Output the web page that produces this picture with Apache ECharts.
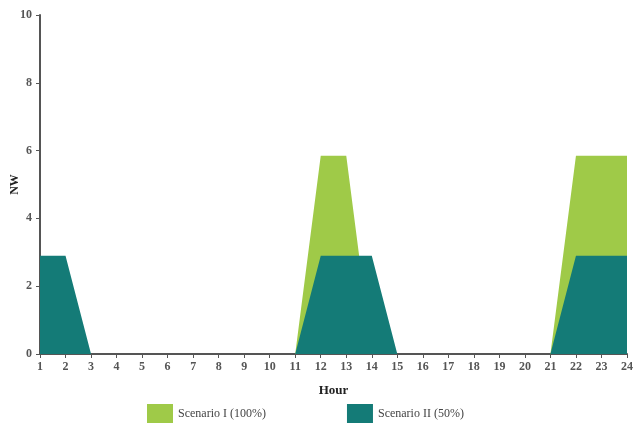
<!DOCTYPE html>
<html>
<head>
<meta charset="utf-8">
<script src="https://cdn.jsdelivr.net/npm/echarts@6/dist/echarts.min.js"></script>
<style>html,body{margin:0;padding:0;background:#fff}#c{width:638px;height:430px}</style>
</head>
<body>
<div id="c"></div>
<script>
const hours = ['1','2','3','4','5','6','7','8','9','10','11','12','13','14','15','16','17','18','19','20','21','22','23','24'];
const scenario1 = [0,0,0,0,0,0,0,0,0,0,0,5.85,5.85,0,0,0,0,0,0,0,0,5.85,5.85,5.85];
const scenario2 = [2.9,2.9,0,0,0,0,0,0,0,0,0,2.9,2.9,2.9,0,0,0,0,0,0,0,2.9,2.9,2.9];
const yTicks = [0,2,4,6,8,10];

const font = 'Liberation Serif';
const chart = echarts.init(document.getElementById('c'));
chart.setOption({
  animation: false,
  grid: {left: 40, right: 11, top: 15, bottom: 76, containLabel: false, outerBoundsMode: 'none'},
  legend: {
    left: 142, top: 399, itemWidth: 26, itemHeight: 19, itemGap: 81,
    icon: 'rect',
    textStyle: {fontFamily: font, fontSize: 12, color: '#444'},
    data: ['Scenario I (100%)', 'Scenario II (50%)']
  },
  xAxis: {
    type: 'category', data: hours, boundaryGap: false,
    name: 'Hour', nameLocation: 'middle', nameGap: 30, nameMoveOverlap: false,
    nameTextStyle: {fontFamily: font, fontSize: 13, fontWeight: 'bold', color: '#222'},
    axisLine: {lineStyle: {color: '#555', width: 2}},
    axisTick: {alignWithLabel: true, length: 4, lineStyle: {color: '#555'}},
    axisLabel: {fontFamily: font, fontSize: 12, fontWeight: 'bold', color: '#555', margin: 7}
  },
  yAxis: {
    type: 'value', min: 0, max: 10, interval: 2,
    name: 'NW', nameLocation: 'middle', nameGap: 19, nameRotate: 90, nameMoveOverlap: false,
    nameTextStyle: {fontFamily: font, fontSize: 12, fontWeight: 'bold', color: '#222'},
    axisLine: {show: true, lineStyle: {color: '#555', width: 2}},
    axisTick: {show: true, length: 4, lineStyle: {color: '#555'}},
    splitLine: {show: false},
    axisLabel: {fontFamily: font, fontSize: 12, fontWeight: 'bold', color: '#555', margin: 8,
      formatter: v => yTicks.includes(v) ? String(v) : ''}
  },
  series: [
    {name: 'Scenario I (100%)', type: 'line', data: scenario1, symbol: 'none',
     itemStyle: {color: '#9fca48'}, lineStyle: {width: 0},
     areaStyle: {color: '#9fca48', opacity: 1}},
    {name: 'Scenario II (50%)', type: 'line', data: scenario2, symbol: 'none',
     itemStyle: {color: '#147b77'}, lineStyle: {width: 0},
     areaStyle: {color: '#147b77', opacity: 1}}
  ]
});
</script>
</body>
</html>
